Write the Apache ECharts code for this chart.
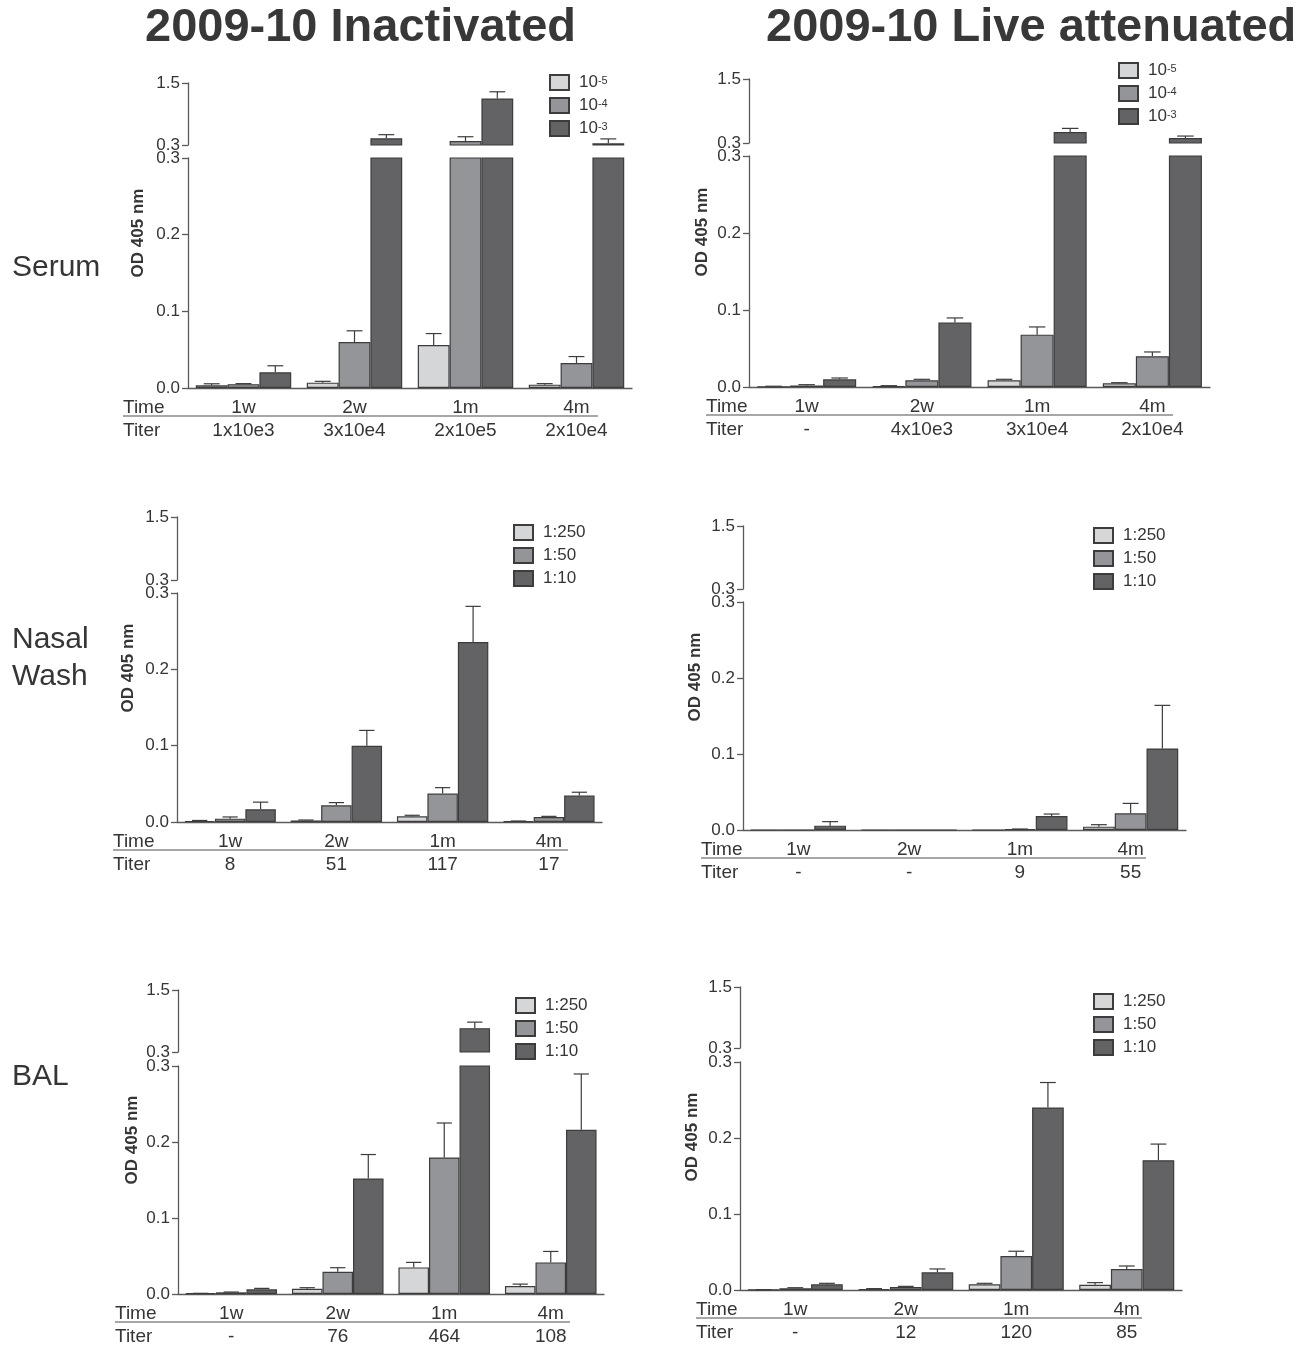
<!DOCTYPE html>
<html>
<head>
<meta charset="utf-8">
<script src="https://cdn.jsdelivr.net/npm/echarts@6/dist/echarts.min.js"></script>
<style>
html,body{margin:0;padding:0;background:#fff;}
#chart{width:1301px;height:1347px;}
</style>
</head>
<body>
<div id="chart"></div>
<script>
// ---------------- DATA ----------------
const timeLabels = ['1w', '2w', '1m', '4m'];
const serumDilutions = ['10^-5', '10^-4', '10^-3'];
const mucosalDilutions = ['1:250', '1:50', '1:10'];

// Serum, 2009-10 inactivated
const serumInactD5 = [0.0035, 0.007, 0.056, 0.0044];
const serumInactD5Err = [0.002, 0.0017, 0.015, 0.0013];
const serumInactD4 = [0.005, 0.060, 0.377, 0.0327];
const serumInactD4Err = [0.0007, 0.0146, 0.083, 0.0083];
const serumInactD3 = [0.0205, 0.43, 1.20, 0.332];
const serumInactD3Err = [0.0085, 0.07, 0.13, 0.086];
const serumInactTiter = ['1x10e3', '3x10e4', '2x10e5', '2x10e4'];

// Serum, 2009-10 live attenuated
const serumLiveD5 = [0.0005, 0.001, 0.0087, 0.0048];
const serumLiveD5Err = [0.0005, 0.0007, 0.0013, 0.0008];
const serumLiveD4 = [0.002, 0.0087, 0.068, 0.040];
const serumLiveD4Err = [0.001, 0.0013, 0.010, 0.0055];
const serumLiveD3 = [0.010, 0.0837, 0.506, 0.394];
const serumLiveD3Err = [0.0017, 0.006, 0.068, 0.036];
const serumLiveTiter = ['-', '4x10e3', '3x10e4', '2x10e4'];

// Nasal wash, inactivated
const nasalInact250 = [0.0013, 0.002, 0.0074, 0.0009];
const nasalInact250Err = [0.0007, 0.0006, 0.0014, 0.0004];
const nasalInact50 = [0.0044, 0.0219, 0.0372, 0.0066];
const nasalInact50Err = [0.0022, 0.0035, 0.0078, 0.0008];
const nasalInact10 = [0.0166, 0.0999, 0.2357, 0.0346];
const nasalInact10Err = [0.0094, 0.0201, 0.0468, 0.0044];
const nasalInactTiter = ['8', '51', '117', '17'];

// Nasal wash, live attenuated
const nasalLive250 = [0, 0, 0, 0.0044];
const nasalLive250Err = [0, 0, 0, 0.0026];
const nasalLive50 = [0, 0, 0.0013, 0.0219];
const nasalLive50Err = [0, 0, 0, 0.0131];
const nasalLive10 = [0.0057, 0, 0.0184, 0.1073];
const nasalLive10Err = [0.0053, 0, 0.0026, 0.0567];
const nasalLiveTiter = ['-', '-', '9', '55'];

// BAL, inactivated
const balInact250 = [0.0009, 0.007, 0.035, 0.0105];
const balInact250Err = [0, 0.0013, 0.0066, 0.0025];
const balInact50 = [0.0022, 0.0293, 0.1796, 0.0416];
const balInact50Err = [0.0004, 0.0053, 0.0454, 0.0144];
const balInact10 = [0.0061, 0.152, 0.762, 0.216];
const balInact10Err = [0.0013, 0.0315, 0.116, 0.0735];
const balInactTiter = ['-', '76', '464', '108'];

// BAL, live attenuated
const balLive250 = [0.0005, 0.0013, 0.0075, 0.007];
const balLive250Err = [0, 0.0005, 0.0013, 0.0027];
const balLive50 = [0.0022, 0.004, 0.0448, 0.0277];
const balLive50Err = [0.0008, 0.0008, 0.0062, 0.0039];
const balLive10 = [0.0075, 0.0233, 0.2402, 0.1708];
const balLive10Err = [0.0013, 0.0044, 0.0328, 0.0212];
const balLiveTiter = ['-', '12', '120', '85'];

const lowerTicks = [0, 0.1, 0.2, 0.3];
const upperTicks = [0.3, 1.5];
const columnTitles = ['2009-10 Inactivated', '2009-10 Live attenuated'];
const rowLabels = [['Serum'], ['Nasal', 'Wash'], ['BAL']];
const yAxisTitle = 'OD 405 nm';

const panelData = [
  {names: serumDilutions, vals: [serumInactD5, serumInactD4, serumInactD3], errs: [serumInactD5Err, serumInactD4Err, serumInactD3Err], titer: serumInactTiter},
  {names: serumDilutions, vals: [serumLiveD5, serumLiveD4, serumLiveD3], errs: [serumLiveD5Err, serumLiveD4Err, serumLiveD3Err], titer: serumLiveTiter},
  {names: mucosalDilutions, vals: [nasalInact250, nasalInact50, nasalInact10], errs: [nasalInact250Err, nasalInact50Err, nasalInact10Err], titer: nasalInactTiter},
  {names: mucosalDilutions, vals: [nasalLive250, nasalLive50, nasalLive10], errs: [nasalLive250Err, nasalLive50Err, nasalLive10Err], titer: nasalLiveTiter},
  {names: mucosalDilutions, vals: [balInact250, balInact50, balInact10], errs: [balInact250Err, balInact50Err, balInact10Err], titer: balInactTiter},
  {names: mucosalDilutions, vals: [balLive250, balLive50, balLive10], errs: [balLive250Err, balLive50Err, balLive10Err], titer: balLiveTiter}
];

// ---------------- LAYOUT / STYLE ----------------
const layout = [
  {l:188, r:632, uT:83, uB:145, lT:158, lB:388, leg:[549,74], timeX:123, lineEnd:598, yName:[138,233]},
  {l:749, r:1210, uT:79, uB:143, lT:156, lB:387, leg:[1118,62], timeX:706, lineEnd:1173, yName:[702,232]},
  {l:177, r:602, uT:517, uB:580, lT:593, lB:822, leg:[513,524], timeX:113, lineEnd:568, yName:[128,668]},
  {l:743, r:1186, uT:526, uB:589, lT:602, lB:830, leg:[1093,527], timeX:701, lineEnd:1146, yName:[695,677]},
  {l:178, r:604, uT:990, uB:1052, lT:1066, lB:1294, leg:[515,997], timeX:115, lineEnd:570, yName:[132,1140]},
  {l:740, r:1182, uT:987, uB:1048, lT:1062, lB:1290, leg:[1093,993], timeX:696, lineEnd:1142, yName:[692,1137]}
];
const FONT = '"Liberation Sans", Arial, Helvetica, sans-serif';
const TXT = '#353535';
const AX = '#5a5a5a';
const barColors = ['#d5d6d8', '#949598', '#636366'];
const barBorder = '#3c3c3c';
const CAT_GAP = 0.14;
const BREAK = 0.3;

function errRender(k, upper) {
  return function (params, api) {
    const cat = api.value(0), v = api.value(1), e = api.value(2);
    if (!(v > 0) && !(e > 0)) return;
    if (upper && !(v > BREAK)) return;
    if (!upper && v + e > BREAK) return;
    const band = api.size([1, 0])[0];
    const bw = band * (1 - CAT_GAP) / 3;
    const base = api.coord([cat, v]);
    const top = api.coord([cat, v + e]);
    const x = base[0] + (k - 1) * bw;
    const st = {stroke: '#3c3c3c', lineWidth: 1.2};
    return {type: 'group', children: [
      {type: 'line', shape: {x1: x, y1: base[1], x2: x, y2: top[1]}, style: st},
      {type: 'line', shape: {x1: x - bw / 4, y1: top[1], x2: x + bw / 4, y2: top[1]}, style: st}
    ]};
  };
}

const grid = [], xAxis = [], yAxis = [], series = [], legend = [], graphic = [];

panelData.forEach((pd, i) => {
  const L = layout[i];
  const gL = 2 * i, gU = 2 * i + 1;
  grid.push({left: L.l, top: L.lT, width: L.r - L.l, height: L.lB - L.lT});
  grid.push({left: L.l, top: L.uT, width: L.r - L.l, height: L.uB - L.uT});
  xAxis.push({
    type: 'category', gridIndex: gL, data: timeLabels,
    axisLine: {lineStyle: {color: AX, width: 1.3}},
    axisTick: {show: false},
    axisLabel: {
      interval: 0, margin: 8,
      formatter: (v, idx) => '{t|' + v + '}\n{t|' + pd.titer[idx] + '}',
      rich: {t: {fontSize: 19, lineHeight: 23, color: TXT, fontFamily: FONT}}
    }
  });
  xAxis.push({type: 'category', gridIndex: gU, data: timeLabels, show: false});
  yAxis.push({
    type: 'value', gridIndex: gL, min: lowerTicks[0], max: lowerTicks[lowerTicks.length - 1], interval: 0.1,
    splitLine: {show: false},
    axisLine: {show: true, lineStyle: {color: AX, width: 1.3}},
    axisTick: {show: true, length: 6, lineStyle: {color: AX, width: 1.3}},
    axisLabel: {margin: 8, fontSize: 17, color: TXT, fontFamily: FONT, formatter: v => v.toFixed(1)}
  });
  yAxis.push({
    type: 'value', gridIndex: gU, min: upperTicks[0], max: upperTicks[1],
    splitLine: {show: false},
    axisLine: {show: true, lineStyle: {color: AX, width: 1.3}},
    axisTick: {show: true, length: 6, lineStyle: {color: AX, width: 1.3}, customValues: upperTicks},
    axisLabel: {margin: 8, fontSize: 17, color: TXT, fontFamily: FONT, customValues: upperTicks, formatter: v => v.toFixed(1)}
  });
  for (let k = 0; k < 3; k++) {
    const common = {
      type: 'bar', name: pd.names[k], barGap: '0%', barCategoryGap: (CAT_GAP * 100) + '%',
      itemStyle: {color: barColors[k], borderColor: barBorder, borderWidth: 1.2},
      clip: true, z: 2
    };
    series.push(Object.assign({}, common, {xAxisIndex: gL, yAxisIndex: gL, data: pd.vals[k]}));
    series.push(Object.assign({}, common, {xAxisIndex: gU, yAxisIndex: gU,
      data: pd.vals[k].map(v => v > BREAK ? v : '-')}));
    const errData = pd.vals[k].map((v, j) => [j, v, pd.errs[k][j]]);
    series.push({type: 'custom', name: 'err' + i + '_' + k + 'L', xAxisIndex: gL, yAxisIndex: gL,
      data: errData, encode: {x: 0, y: 1}, renderItem: errRender(k, false), z: 3});
    series.push({type: 'custom', name: 'err' + i + '_' + k + 'U', xAxisIndex: gU, yAxisIndex: gU,
      data: errData, encode: {x: 0, y: 1}, renderItem: errRender(k, true), z: 3});
  }
  const isSerum = pd.names === serumDilutions;
  legend.push({
    data: pd.names.slice(), orient: 'vertical', left: L.leg[0], top: L.leg[1], padding: 0,
    itemWidth: 19, itemHeight: 15, itemGap: 6, icon: 'rect', selectedMode: false,
    formatter: name => {
      if (isSerum) { const p = name.split('^'); return '{b|' + p[0] + '}{s|' + p[1] + '}'; }
      return '{b|' + name + '}';
    },
    textStyle: {
      fontFamily: FONT, color: TXT, fontSize: 17, lineHeight: 15,
      rich: {
        b: {fontSize: 17, lineHeight: 15, color: TXT, fontFamily: FONT, padding: [0, 0, 0, 5]},
        s: {fontSize: 11, lineHeight: 2, color: TXT, fontFamily: FONT, verticalAlign: 'top'}
      }
    }
  });
  // y axis title
  graphic.push({type: 'text', x: L.yName[0], y: L.yName[1], rotation: Math.PI / 2,
    style: {text: yAxisTitle, font: 'bold 17px ' + FONT, fill: TXT, align: 'center', verticalAlign: 'middle'}});
  // Time / Titer row labels
  graphic.push({type: 'text', x: L.timeX, y: L.lB + 20,
    style: {text: 'Time', font: '19px ' + FONT, fill: TXT, align: 'left', verticalAlign: 'middle'}});
  graphic.push({type: 'text', x: L.timeX, y: L.lB + 43,
    style: {text: 'Titer', font: '19px ' + FONT, fill: TXT, align: 'left', verticalAlign: 'middle'}});
  graphic.push({type: 'line', shape: {x1: L.timeX, y1: L.lB + 28, x2: L.lineEnd, y2: L.lB + 28},
    style: {stroke: '#8a8a8a', lineWidth: 1.3}});
});

// column titles
graphic.push({type: 'text', x: 145, y: 28,
  style: {text: columnTitles[0], font: 'bold 47px ' + FONT, fill: '#383838', align: 'left', verticalAlign: 'middle'}});
graphic.push({type: 'text', x: 766, y: 28,
  style: {text: columnTitles[1], font: 'bold 47px ' + FONT, fill: '#383838', align: 'left', verticalAlign: 'middle'}});
// row labels
const rowY = [[268], [640, 677], [1077]];
rowLabels.forEach((lines, r) => {
  lines.forEach((t, j) => {
    graphic.push({type: 'text', x: 12, y: rowY[r][j],
      style: {text: t, font: '30px ' + FONT, fill: TXT, align: 'left', verticalAlign: 'middle'}});
  });
});

const chart = echarts.init(document.getElementById('chart'), null, {renderer: 'canvas'});
chart.setOption({
  animation: false,
  backgroundColor: '#ffffff',
  textStyle: {fontFamily: FONT},
  grid, xAxis, yAxis, series, legend, graphic
});
</script>
</body>
</html>
